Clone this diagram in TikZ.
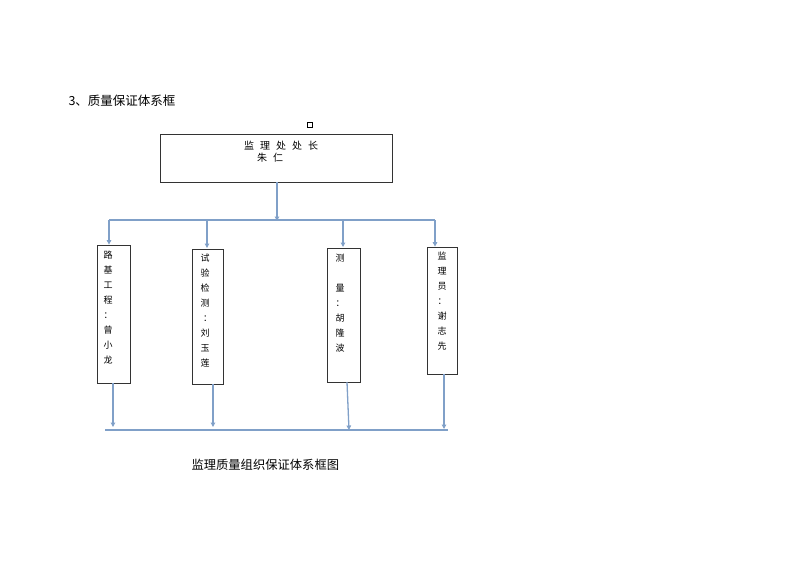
\documentclass[tikz,border=0pt]{standalone}
\usepackage{fontspec}
\setmainfont{Noto Sans CJK SC}
\usetikzlibrary{arrows.meta}
\definecolor{linkblue}{RGB}{128,160,200}
\tikzset{
  box/.style={draw,thick,black!80,minimum width=#1,inner sep=0pt},
  boxtext/.style={anchor=north,inner sep=0pt,font=\fontsize{9}{15}\selectfont,align=center},
  link/.style={linkblue,line width=1.3pt},
  linkarrow/.style={link,-{Triangle[length=4.5pt,width=4.5pt]}}
}
\begin{document}
\begin{tikzpicture}[x=1pt,y=-1pt]
\useasboundingbox(0,0)rectangle(800,566);
%title
\node[anchor=west,font=\fontsize{12.5}{13}\selectfont](title)at(65,101){3、质量保证体系框};
\node[draw,thick,minimum size=5.5pt,inner sep=0pt](mark)at(310,125){};
%head box
\node[draw,thick,black!80,minimum width=232pt,minimum height=48pt](head)at(276,158){};
\node[font=\fontsize{10}{11}\selectfont](headA)at(281,146){监\hspace{6pt}理\hspace{6pt}处\hspace{6pt}处\hspace{6pt}长};
\node[font=\fontsize{10}{11}\selectfont](headB)at(270,158){朱\hspace{6pt}仁};
%column boxes
\node[box=33pt,minimum height=138pt](b1)at(113.5,314){};
\node[box=31pt,minimum height=135pt](b2)at(207.5,316.5){};
\node[box=33pt,minimum height=134pt](b3)at(343.5,315){};
\node[box=30pt,minimum height=127pt](b4)at(442,310.5){};
\node[boxtext](t1)at(108,251){路\\基\\工\\程\\：\\曾\\小\\龙};
\node[boxtext](t2)at(205,254){试\\验\\检\\测\\\hspace{5pt}：\\刘\\玉\\莲};
\node[boxtext](t3)at(340,254){测\\\\量\\：\\胡\\隆\\波};
\node[boxtext](t4)at(442,252){监\\理\\员\\：\\谢\\志\\先};
%connectors
\coordinate(top)at(277,221);
\coordinate(topL)at(109,220);
\coordinate(topR)at(435,220);
\coordinate(botL)at(105,430);
\coordinate(botR)at(448,430);
\draw[linkarrow](head.south-|top)--(top);
\draw[link](topL)--(topR);
\draw[linkarrow](topL)--(topL|-b1.north);
\draw[linkarrow](207,220)--(207,248);
\draw[linkarrow](343,220)--(343,247);
\draw[linkarrow](topR)--(topR|-b4.north);
\draw[linkarrow](113,383)--(113,427);
\draw[linkarrow](213,384)--(213,427);
\draw[linkarrow](347,382)--(349,430);
\draw[linkarrow](444,374)--(444,429);
\draw[link](botL)--(botR);
%caption
\node[anchor=west,font=\fontsize{12.3}{13}\selectfont](caption)at(188,465){监理质量组织保证体系框图};
\end{tikzpicture}
\end{document}
